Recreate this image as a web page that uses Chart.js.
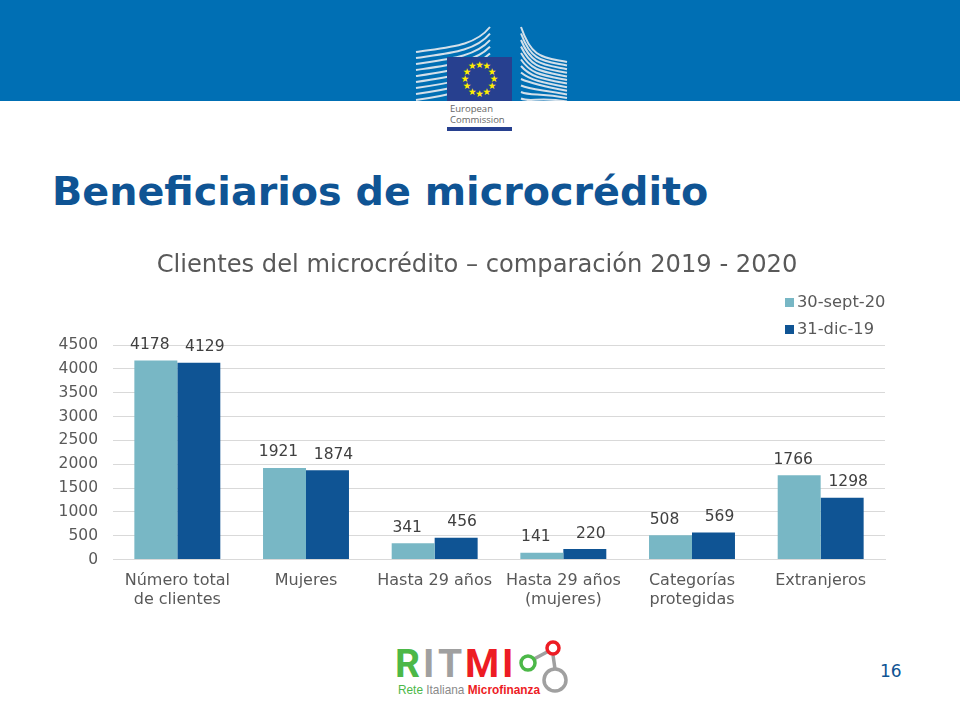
<!DOCTYPE html>
<html>
<head>
<meta charset="utf-8">
<title>Beneficiarios de microcrédito</title>
<script src="https://cdn.jsdelivr.net/npm/chart.js@4"></script>
<style>
  html, body { margin: 0; padding: 0; background: #fff; }
  #slide { position: relative; width: 960px; height: 720px; overflow: hidden; font-family: "DejaVu Sans", sans-serif; }
  #band { position: absolute; left: 0; top: 0; width: 960px; height: 101px; background: #006fb4; }
  #logos { position: absolute; left: 0; top: 0; }
  #heading { position: absolute; left: 52px; top: 166px; margin: 0; font-size: 39.7px; line-height: 50px; font-weight: bold; color: #0f5494; white-space: nowrap; }
  #chart-box { position: absolute; left: 0; top: 240px; width: 960px; height: 380px; }
  #legend { position: absolute; left: 785px; top: 290px; font-size: 16.3px; color: #595959; }
  #legend div { height: 27px; line-height: 24px; white-space: nowrap; }
  #legend span { display: inline-block; width: 9px; height: 9px; margin-right: 3px; }
  #page { position: absolute; left: 880px; top: 661px; font-size: 17px; color: #0f5494; }
</style>
</head>
<body>
<div id="slide">
  <div id="band"></div>
  <svg id="logos" width="960" height="720" xmlns="http://www.w3.org/2000/svg"></svg>
  <h1 id="heading">Beneficiarios de microcrédito</h1>
  <div id="chart-box"><canvas id="chart"></canvas></div>
  <div id="legend"></div>
  <div id="page">16</div>
</div>
<script>
const categories = [['Número total', 'de clientes'], 'Mujeres', 'Hasta 29 años', ['Hasta 29 años', '(mujeres)'], ['Categorías', 'protegidas'], 'Extranjeros'];
const sept20 = [4178, 1921, 341, 141, 508, 1766];
const dic19 = [4129, 1874, 456, 220, 569, 1298];
const seriesNames = ['30-sept-20', '31-dic-19'];
const seriesColors = ['#78b7c5', '#0f5494'];
const chartTitle = 'Clientes del microcrédito – comparación 2019 - 2020';

// Value labels above each bar, pushed slightly apart within the group
const barLabels = {
  id: 'barLabels',
  afterLayout(chart) {
    // The title sits centred on the slide, not on the plot
    chart.titleBlock.left += 9.5;
    chart.titleBlock.right += 9.5;
  },
  afterDatasetsDraw(chart) {
    const ctx = chart.ctx;
    const shift = [-6, 6];
    ctx.save();
    ctx.font = '15.5px "DejaVu Sans"';
    ctx.fillStyle = '#404040';
    ctx.textAlign = 'center';
    ctx.textBaseline = 'middle';
    chart.data.datasets.forEach((ds, i) => {
      chart.getDatasetMeta(i).data.forEach((bar, j) => {
        ctx.fillText(ds.data[j], bar.x + shift[i], bar.y - 15.5);
      });
    });
    ctx.restore();
  }
};

new Chart(document.getElementById('chart'), {
  type: 'bar',
  data: {
    labels: categories,
    datasets: [
      { label: seriesNames[0], data: sept20, backgroundColor: seriesColors[0] },
      { label: seriesNames[1], data: dic19, backgroundColor: seriesColors[1] }
    ]
  },
  plugins: [barLabels],
  options: {
    animation: false,
    responsive: true,
    maintainAspectRatio: false,
    layout: { padding: { left: 50, right: 75, top: 0, bottom: 0 } },
    datasets: { bar: { barPercentage: 1, categoryPercentage: 0.668 } },
    plugins: {
      legend: { display: false },
      tooltip: { enabled: false },
      title: {
        display: true,
        text: chartTitle,
        color: '#595959',
        font: { family: '"DejaVu Sans"', size: 24.2, weight: 'normal' },
        padding: { top: 11, bottom: 65 }
      }
    },
    scales: {
      x: {
        grid: { display: false, drawTicks: false },
        border: { color: '#d9d9d9' },
        ticks: { color: '#595959', font: { family: '"DejaVu Sans"', size: 16 }, padding: 12, maxRotation: 0, autoSkip: false },
        afterFit(s) { s.height = 60.5; }
      },
      y: {
        min: 0,
        max: 4500,
        grid: { color: '#d9d9d9', drawTicks: false },
        border: { display: false },
        ticks: { stepSize: 500, color: '#595959', font: { family: '"DejaVu Sans"', size: 15.5 }, padding: 15, callback: v => String(v) },
        afterFit(s) { s.width = 63; }
      }
    }
  }
});

// Legend stacked in the top right corner
const legendEl = document.getElementById('legend');
seriesNames.forEach((name, i) => {
  const row = document.createElement('div');
  row.innerHTML = '<span style="background:' + seriesColors[i] + '"></span>' + name;
  legendEl.appendChild(row);
});

// Logos drawn as vector shapes
let svg = '';
const stripes = '#d4e0ea';
for (let i = 0; i < 9; i++) {
  const d = i * 6;
  svg += '<path d="M416 ' + (52 + d) + ' C450 ' + (47 + d) + ' 475 ' + (46 + d * 0.9) + ' 490 ' + (27 + d * 1.1) + '" fill="none" stroke="' + stripes + '" stroke-width="2"/>';
}
for (let i = 0; i < 12; i++) {
  const top = 27 + i * 6.5;
  const end = 62 + i * 3.6;
  const bend = Math.max(0, 1 - i / 8);
  svg += '<path d="M521 ' + top + ' C' + (530 + 2 * bend) + ' ' + (top + 28 * bend + 4) + ' ' + (540 + 3 * bend) + ' ' + (end - 5) + ' 567 ' + end + '" fill="none" stroke="' + stripes + '" stroke-width="2"/>';
}
svg += '<rect x="400" y="101" width="190" height="45" fill="#fff"/>';
svg += '<rect x="447" y="57" width="65" height="44" fill="#27408f"/>';
for (let i = 0; i < 12; i++) {
  const a = i * Math.PI / 6;
  svg += '<text x="' + (479.5 + 14.5 * Math.sin(a)) + '" y="' + (82 - 14.5 * Math.cos(a)) + '" font-size="9.5" text-anchor="middle" fill="#ffed00" font-family="DejaVu Sans">★</text>';
}
svg += '<text x="450" y="112" font-family="Open Sans" font-size="9.5" fill="#666">European</text>';
svg += '<text x="450" y="123" font-family="Open Sans" font-size="9.5" fill="#666">Commission</text>';
svg += '<rect x="447" y="127" width="65" height="4" fill="#27408f"/>';
// RITMI
const letters = [['R', 395, '#4cb848'], ['I', 423, '#a0a0a0'], ['T', 438, '#a0a0a0'], ['M', 465, '#ed1c24'], ['I', 502, '#ed1c24']];
letters.forEach(l => {
  svg += '<text x="' + l[1] + '" y="677" font-family="Roboto" font-weight="bold" font-size="39" fill="' + l[2] + '">' + l[0] + '</text>';
});
svg += '<text x="398" y="694" font-family="Liberation Sans" font-size="13" textLength="142" lengthAdjust="spacingAndGlyphs">' +
  '<tspan fill="#4cb848">Rete </tspan><tspan fill="#8a8a8a">Italiana </tspan><tspan fill="#ed1c24" font-weight="bold">Microfinanza</tspan></text>';
svg += '<path d="M534 659 L547 652 M553 655 L555 669" stroke="#a0a0a0" stroke-width="3.5"/>';
svg += '<circle cx="528" cy="663" r="7" fill="none" stroke="#4cb848" stroke-width="3.5"/>';
svg += '<circle cx="553" cy="648" r="6" fill="none" stroke="#ed1c24" stroke-width="3.5"/>';
svg += '<circle cx="555" cy="680" r="11" fill="none" stroke="#a0a0a0" stroke-width="3.5"/>';
document.getElementById('logos').innerHTML = svg;
</script>
</body>
</html>
